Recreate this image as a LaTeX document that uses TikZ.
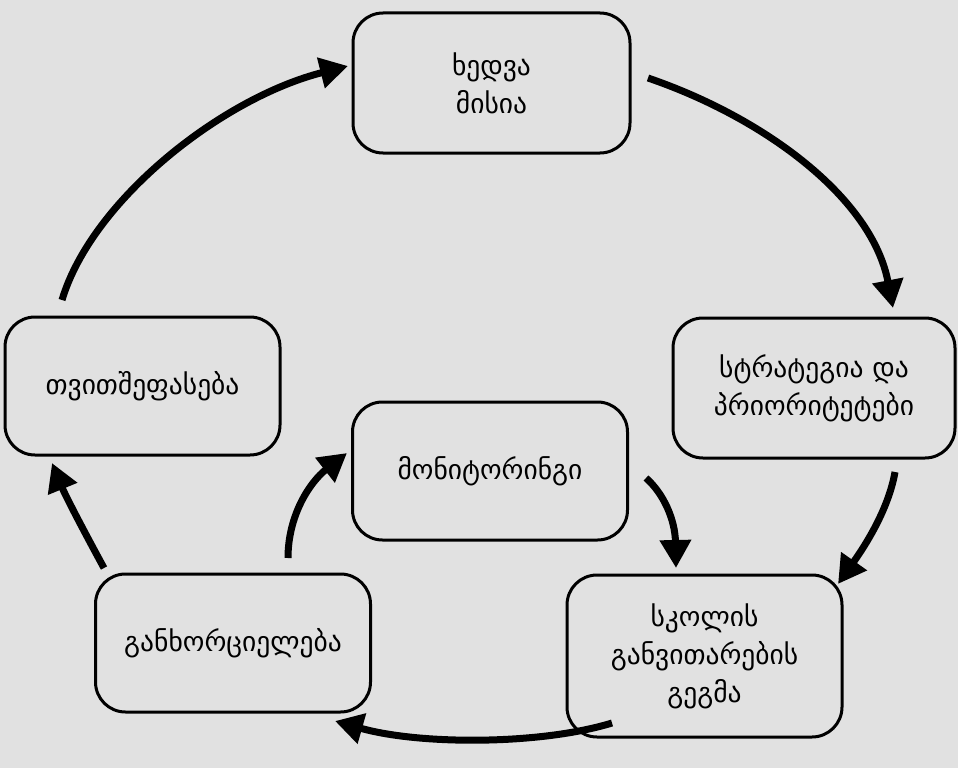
\documentclass[tikz,border=0pt]{standalone}
\usepackage{fontspec}
\setmainfont{DejaVu Sans}
\usetikzlibrary{arrows.meta}
\definecolor{bg}{RGB}{225,225,225}
\begin{document}
\begin{tikzpicture}[x=1pt,y=-1pt,
  box/.style={draw=black, line width=3pt, rounded corners=30pt, fill=bg,
    minimum width=275pt, minimum height=138pt, align=center,
    font=\fontsize{27.5}{38}\selectfont, inner sep=0pt},
  flow/.style={line width=7pt, -{Triangle[length=28pt,width=30pt]}}]
\fill[bg] (0,0) rectangle (958,768);
\useasboundingbox (0,0) rectangle (958,768);
\node[box, minimum width=277pt, minimum height=140pt] (vision) at (491.5,83) {ხედვა\\მისია};
\node[box, minimum width=282pt, minimum height=140pt] (strat) at (814,388) {სტრატეგია და\\პრიორიტეტები};
\node[box, minimum height=162pt] (plan) at (704.5,656) {სკოლის\\განვითარების\\გეგმა};
\node[box] (impl) at (233,643) {განხორციელება};
\node[box] (self) at (142.5,386) {თვითშეფასება};
\node[box] (monit) at (490,471) {მონიტორინგი};
% connector end points
\coordinate (a1) at (648,78);  \coordinate (b1) at (893,308);
\coordinate (a2) at (895,472); \coordinate (b2) at (838,584);
\coordinate (a3) at (612,723); \coordinate (b3) at (335,721);
\coordinate (a4) at (104,568); \coordinate (b4) at (52,463);
\coordinate (a5) at (62,300);  \coordinate (b5) at (348,66);
\coordinate (a6) at (288,558); \coordinate (b6) at (347,453);
\coordinate (a7) at (646,478); \coordinate (b7) at (676,568);
\draw[flow] (a1) .. controls (765,118) and (872,198) .. (b1);
\draw[flow] (a2) .. controls (888,512) and (862,550) .. (b2);
\draw[flow] (a3) .. controls (540,745) and (420,745) .. (b3);
\draw[flow] (a4) .. controls (86,535) and (66,497) .. (b4);
\draw[flow] (a5) .. controls (92,200) and (222,98) .. (b5);
\draw[flow] (a6) .. controls (288,515) and (310,482) .. (b6);
\draw[flow] (a7) .. controls (664,494) and (675,520) .. (b7);
\end{tikzpicture}
\end{document}
